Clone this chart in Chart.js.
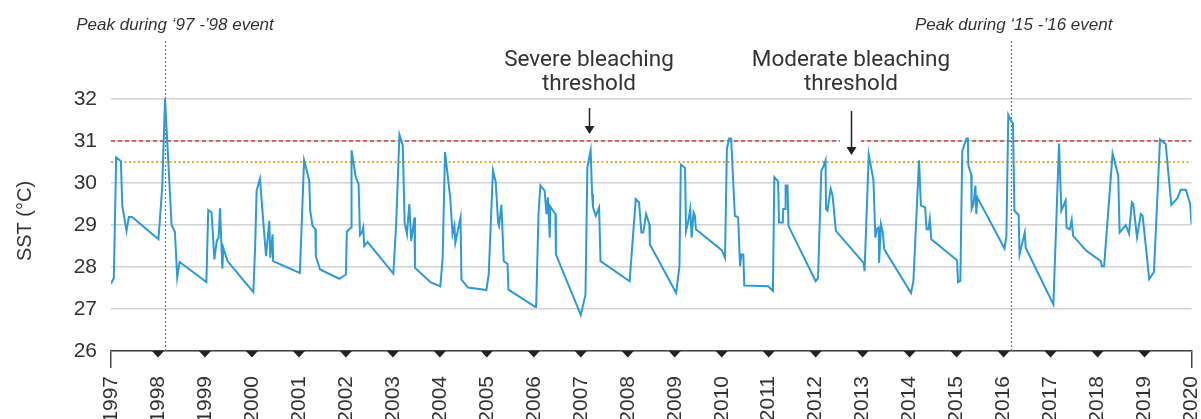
<!DOCTYPE html>
<html>
<head>
<meta charset="utf-8">
<script src="https://cdn.jsdelivr.net/npm/chart.js@4.4.1/dist/chart.umd.min.js"></script>
<style>
  html, body { margin: 0; padding: 0; background: #fff; }
  #wrap { width: 1201px; height: 419px; }
</style>
</head>
<body>
<div id="wrap"><canvas id="sst"></canvas></div>
<script>
// sampling dates (decimal years) and sea surface temperature (°C)
const dates = [
  1997.00, 1997.06, 1997.11, 1997.21, 1997.24, 1997.33, 1997.38, 1997.45,
  1998.01, 1998.09, 1998.15, 1998.29, 1998.36, 1998.41, 1998.46,
  1999.03, 1999.07, 1999.14, 1999.20, 1999.25, 1999.29, 1999.32, 1999.37, 1999.39, 1999.48,
  2000.03, 2000.07, 2000.10, 2000.17, 2000.30, 2000.37, 2000.39, 2000.44, 2000.45,
  2001.02, 2001.11, 2001.22, 2001.24, 2001.29, 2001.35, 2001.36, 2001.45, 2001.86,
  2002.00, 2002.02, 2002.11, 2002.12, 2002.21, 2002.27, 2002.30, 2002.34, 2002.37, 2002.39, 2002.46,
  2003.01, 2003.07, 2003.14, 2003.21, 2003.25, 2003.30, 2003.35, 2003.39, 2003.42, 2003.46, 2003.47, 2003.80,
  2004.01, 2004.06, 2004.11, 2004.22, 2004.27, 2004.31, 2004.33, 2004.44, 2004.46, 2004.60, 2004.99,
  2005.04, 2005.13, 2005.19, 2005.24, 2005.26, 2005.31, 2005.36, 2005.44, 2005.46,
  2006.02, 2006.05, 2006.10, 2006.14, 2006.23, 2006.27, 2006.30, 2006.34, 2006.35, 2006.41, 2006.46, 2006.47,
  2007.00, 2007.10, 2007.14, 2007.21, 2007.24, 2007.26, 2007.32, 2007.39, 2007.42,
  2008.04, 2008.17, 2008.24, 2008.29, 2008.33, 2008.39, 2008.46, 2008.47,
  2009.03, 2009.10, 2009.13, 2009.22, 2009.24, 2009.29, 2009.33, 2009.36, 2009.40, 2009.43, 2009.45,
  2010.00, 2010.07, 2010.11, 2010.16, 2010.20, 2010.28, 2010.35, 2010.39, 2010.42, 2010.46, 2010.48, 2010.99,
  2011.09, 2011.12, 2011.20, 2011.22, 2011.30, 2011.31, 2011.35, 2011.36, 2011.40, 2011.42,
  2012.00, 2012.05, 2012.12, 2012.16, 2012.21, 2012.22, 2012.25, 2012.32, 2012.36, 2012.43,
  2013.02, 2013.04, 2013.13, 2013.23, 2013.27, 2013.30, 2013.34, 2013.35, 2013.39, 2013.43, 2013.46,
  2014.03, 2014.08, 2014.20, 2014.24, 2014.33, 2014.36, 2014.40, 2014.43, 2014.46,
  2015.01, 2015.03, 2015.08, 2015.12, 2015.21, 2015.24, 2015.25, 2015.31, 2015.32, 2015.36, 2015.40, 2015.42, 2015.44,
  2016.02, 2016.06, 2016.10, 2016.15, 2016.20, 2016.23, 2016.32, 2016.34, 2016.45, 2016.47,
  2017.06, 2017.18, 2017.23, 2017.32, 2017.34, 2017.41, 2017.45, 2017.48, 2017.75,
  2018.07, 2018.09, 2018.14, 2018.32, 2018.44, 2018.47, 2018.60, 2018.67, 2018.73, 2018.76, 2018.84, 2018.92, 2018.96,
  2019.10, 2019.20, 2019.33, 2019.45, 2019.57, 2019.70, 2019.77, 2019.88, 2019.97, 2020.00
];
const sst = [
  27.60, 27.74, 30.61, 30.52, 29.46, 28.86, 29.19, 29.19,
  28.66, 29.90, 32.00, 29.00, 28.84, 27.75, 28.12,
  27.64, 29.36, 29.30, 28.18, 28.62, 28.70, 29.40, 27.96, 28.46, 28.14,
  27.40, 28.54, 29.82, 30.10, 28.26, 29.10, 28.22, 28.78, 28.14,
  27.86, 30.54, 30.06, 29.34, 28.98, 28.90, 28.26, 27.94, 27.72,
  27.82, 28.84, 28.94, 30.78, 30.14, 29.98, 28.76, 28.82, 28.94, 28.50, 28.60,
  27.84, 29.02, 31.15, 30.90, 29.06, 28.78, 29.50, 28.62, 28.86, 29.18, 27.98, 27.64,
  27.54, 28.22, 30.74, 29.66, 28.78, 28.98, 28.58, 29.18, 27.70, 27.51, 27.45,
  27.82, 30.30, 30.02, 29.06, 28.98, 29.48, 28.14, 28.07, 27.46,
  27.06, 27.05, 29.26, 29.94, 29.82, 29.26, 29.66, 28.70, 29.44, 29.34, 29.26, 28.30,
  26.86, 27.34, 30.38, 30.78, 29.74, 29.42, 29.22, 29.42, 28.14,
  27.66, 29.62, 29.54, 28.82, 28.82, 29.26, 29.02, 28.54,
  27.38, 28.02, 30.44, 30.36, 28.86, 29.10, 29.38, 28.70, 29.30, 29.22, 28.90,
  28.40, 28.22, 30.82, 31.06, 31.06, 29.22, 29.18, 28.02, 28.30, 28.30, 27.56, 27.54,
  27.43, 30.14, 30.04, 29.06, 29.06, 29.38, 29.38, 29.94, 29.94, 28.98,
  27.66, 27.74, 30.30, 30.38, 30.54, 29.38, 29.34, 29.86, 29.70, 28.86,
  28.10, 27.90, 30.68, 30.06, 28.70, 28.90, 28.94, 28.10, 29.02, 28.82, 28.42,
  27.38, 27.66, 30.54, 29.46, 29.42, 28.90, 28.90, 29.14, 28.66,
  28.16, 27.64, 27.67, 30.76, 31.06, 31.06, 30.42, 30.20, 29.38, 29.50, 29.94, 29.26, 29.66,
  28.44, 28.74, 31.62, 31.50, 31.42, 29.34, 29.24, 28.30, 28.82, 28.46,
  27.11, 30.94, 29.34, 29.58, 28.94, 28.90, 29.12, 28.74, 28.40,
  28.14, 28.02, 28.02, 30.70, 30.18, 28.82, 29.00, 28.79, 29.54, 29.50, 28.71, 29.26, 29.22,
  27.71, 27.88, 31.04, 30.93, 29.48, 29.64, 29.84, 29.84, 29.51, 29.02
];

const yearTicks = [1997, 1998, 1999, 2000, 2001, 2002, 2003, 2004, 2005, 2006, 2007, 2008,
                   2009, 2010, 2011, 2012, 2013, 2014, 2015, 2016, 2017, 2018, 2019, 2020];
const markerYears = yearTicks.slice(1, -1);
const peakDates = [1998.15, 2016.15];
const peakNotes = ['Peak during \u201897 -\u201998 event', 'Peak during \u201815 -\u201916 event'];
const severeThreshold = 31;
const moderateThreshold = 30.5;

const ink = '#333333';
const labelFont = 'Liberation Sans';

const sstNotes = {
  id: 'sstNotes',
  beforeDatasetsDraw(chart) {
    const { ctx, chartArea: area, scales: { x } } = chart;
    ctx.save();
    ctx.strokeStyle = '#4f78b4';
    ctx.lineWidth = 1.2;
    ctx.setLineDash([2, 2]);
    peakDates.forEach(d => {
      const px = Math.round(x.getPixelForValue(d)) + 0.5;
      ctx.beginPath();
      ctx.moveTo(px, 41);
      ctx.lineTo(px, area.bottom);
      ctx.stroke();
    });
    ctx.restore();
  },
  afterDatasetsDraw(chart) {
    const { ctx, scales: { x } } = chart;
    ctx.save();

    // event captions above the peak markers
    ctx.fillStyle = ink;
    ctx.font = 'italic 17px "Liberation Sans"';
    ctx.textAlign = 'center';
    ctx.textBaseline = 'alphabetic';
    const nudge = [10, 3];
    peakDates.forEach((d, i) => {
      ctx.fillText(peakNotes[i], x.getPixelForValue(d) + nudge[i], 30);
    });

    // threshold callouts with arrows
    const callouts = [
      { lines: ['Severe bleaching', 'threshold'], cx: 589, box: [578, 108, 24, 18], a0: 108, a1: 134 },
      { lines: ['Moderate bleaching', 'threshold'], cx: 851, box: [840, 110, 21, 40], a0: 111, a1: 155 }
    ];
    callouts.forEach(c => {
      ctx.fillStyle = ink;
      ctx.font = '22.5px Roboto';
      ctx.textAlign = 'center';
      ctx.fillText(c.lines[0], c.cx, 66);
      ctx.fillText(c.lines[1], c.cx, 90);
      ctx.fillStyle = '#ffffff';
      ctx.fillRect(c.box[0], c.box[1], c.box[2], c.box[3]);
      ctx.strokeStyle = '#222';
      ctx.lineWidth = 1.5;
      ctx.beginPath();
      ctx.moveTo(c.cx + 0.5, c.a0);
      ctx.lineTo(c.cx + 0.5, c.a1 - 6);
      ctx.stroke();
      ctx.fillStyle = '#222';
      ctx.beginPath();
      ctx.moveTo(c.cx - 4.5, c.a1 - 8);
      ctx.lineTo(c.cx + 5.5, c.a1 - 8);
      ctx.lineTo(c.cx + 0.5, c.a1);
      ctx.closePath();
      ctx.fill();
    });

    // axis title
    ctx.fillStyle = ink;
    ctx.font = '20px ' + labelFont;
    ctx.translate(31, 221);
    ctx.rotate(-Math.PI / 2);
    ctx.textAlign = 'center';
    ctx.fillText('SST (\u00b0C)', 0, 0);
    ctx.restore();
  },
  afterDraw(chart) {
    const { ctx, chartArea: area, scales: { x } } = chart;
    ctx.save();
    ctx.fillStyle = '#222';
    markerYears.forEach(yr => {
      const px = x.getPixelForValue(yr);
      ctx.beginPath();
      ctx.moveTo(px - 6, area.bottom);
      ctx.lineTo(px + 6, area.bottom);
      ctx.lineTo(px, area.bottom + 6.5);
      ctx.closePath();
      ctx.fill();
    });
    ctx.restore();
  }
};

const points = dates.map((d, i) => ({ x: d, y: sst[i] }));
const span = [yearTicks[0], yearTicks[yearTicks.length - 1]];

new Chart(document.getElementById('sst'), {
  type: 'line',
  data: {
    datasets: [
      {
        label: 'SST',
        data: points,
        borderColor: '#2b9ad6',
        borderWidth: 2,
        pointRadius: 0,
        tension: 0
      },
      {
        label: 'Severe bleaching threshold',
        data: span.map(v => ({ x: v, y: severeThreshold })),
        borderColor: '#d4403f',
        borderWidth: 1.3,
        borderDash: [4, 3],
        pointRadius: 0
      },
      {
        label: 'Moderate bleaching threshold',
        data: span.map(v => ({ x: v, y: moderateThreshold })),
        borderColor: '#f5a42a',
        borderWidth: 2,
        borderDash: [2, 2.5],
        pointRadius: 0
      }
    ]
  },
  options: {
    responsive: true,
    maintainAspectRatio: false,
    animation: false,
    devicePixelRatio: 1,
    layout: { padding: { top: 99, right: 9.5, left: 0, bottom: 0 } },
    plugins: {
      legend: { display: false },
      tooltip: { enabled: false }
    },
    scales: {
      x: {
        type: 'linear',
        min: span[0],
        max: span[1],
        afterBuildTicks: axis => { axis.ticks = yearTicks.map(v => ({ value: v })); },
        afterFit: axis => {
          axis.height = 68;
          axis.paddingLeft = 0;
          axis.paddingRight = 0;
        },
        ticks: {
          autoSkip: false,
          minRotation: 90,
          maxRotation: 90,
          padding: 8,
          color: ink,
          font: { family: labelFont, size: 21 },
          callback: v => String(v)
        },
        grid: {
          drawOnChartArea: false,
          tickLength: 17,
          lineWidth: 1.5,
          color: c => (c.tick && (c.tick.value === span[0] || c.tick.value === span[1])) ? '#444' : 'rgba(0,0,0,0)'
        },
        border: { display: true, color: '#444', width: 1.5 }
      },
      y: {
        min: 26,
        max: 32,
        afterFit: axis => { axis.width = 111; },
        ticks: {
          stepSize: 0.5,
          padding: 14,
          color: ink,
          font: { family: labelFont, size: 21 },
          callback: v => Number.isInteger(v) ? String(v) : ''
        },
        grid: { color: '#d2d2d2', lineWidth: 1.5, drawTicks: false },
        border: { display: false }
      }
    }
  },
  plugins: [sstNotes]
});
</script>
</body>
</html>
